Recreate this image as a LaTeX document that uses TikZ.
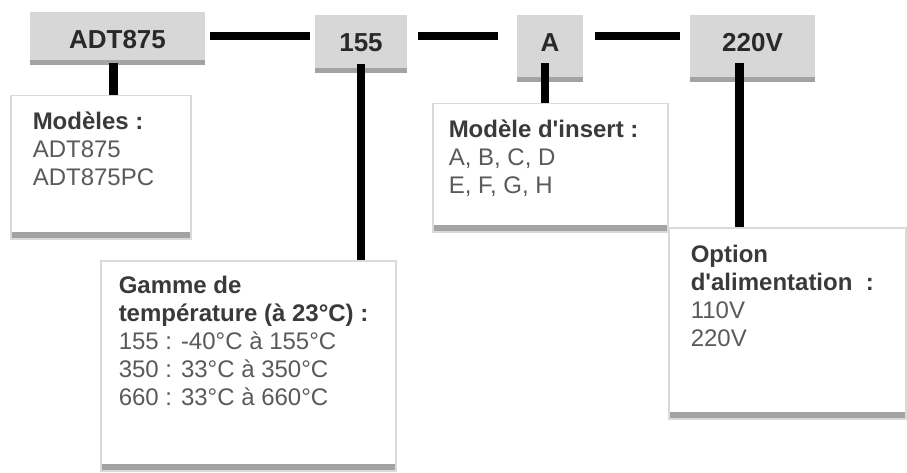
\documentclass[tikz,border=0pt]{standalone}
\usepackage{fontspec}
\setmainfont{Liberation Sans}
\definecolor{grisFond}{HTML}{D7D7D7}
\definecolor{grisBande}{HTML}{A3A3A3}
\definecolor{grisBord}{HTML}{DADADA}
\definecolor{grisTitre}{HTML}{3A3A3A}
\definecolor{grisCorps}{HTML}{5A5A5A}
\def\TitreBoite#1{{\color{grisTitre}\bfseries #1}}
\begin{document}
\begin{tikzpicture}[x=1pt,y=-1pt]
% Styles (MODIFIABLES)
\tikzstyle{etiquette}=[anchor=north,fill=grisFond,inner xsep=0pt,inner ysep=0pt,text height=36pt,
  text=grisTitre!70!black,font=\fontsize{26}{30}\selectfont\bfseries,
  path picture={\fill[grisBande] (path picture bounding box.south west) rectangle ([yshift=5pt]path picture bounding box.south east);}]
\tikzstyle{boite}=[anchor=north west,fill=white,draw=grisBord,line width=1.5pt,inner ysep=16pt,
  text=grisCorps,font=\fontsize{24}{28}\selectfont,
  path picture={\fill[grisBande] (path picture bounding box.south west) rectangle ([yshift=7pt]path picture bounding box.south east);}]
\tikzstyle{liaison}=[line width=8.5pt,black]
% Dimensions (MODIFIABLES)
\def\HautBoiteModele{111pt}
\def\HautBoiteInsert{96pt}
\def\HautBoitePlage{180pt}
\def\HautBoiteTension{157pt}
\useasboundingbox (0,0) rectangle (907,473);
% Etiquettes du haut
\node[etiquette,minimum width=175pt,text depth=17pt] (Modele) at (117.5,12) {ADT875};
\node[etiquette,minimum width=92pt,text depth=22pt] (Plage) at (361,15) {155};
\node[etiquette,minimum width=66pt,text depth=31pt] (Insert) at (550,15) {A};
\node[etiquette,minimum width=125pt,text depth=31pt] (Tension) at (752.5,15) {220V};
% Boites du bas
\node[boite,inner xsep=22pt] (InfoModele) at (10,95)
  {\parbox[t][\HautBoiteModele][t]{136pt}{\TitreBoite{Modèles :}\\ADT875\\ADT875PC}};
\node[boite,inner xsep=16pt] (InfoInsert) at (432,103)
  {\parbox[t][\HautBoiteInsert][t]{203pt}{\TitreBoite{Modèle d\textquotesingle insert :}\\A, B, C, D\\E, F, G, H}};
\node[boite,inner xsep=18pt,inner ysep=15pt] (InfoPlage) at (100,260)
  {\parbox[t][\HautBoitePlage][t]{259pt}{\TitreBoite{Gamme de}\\\TitreBoite{température (à 23°C) :}\\155 : -40°C à 155°C\\350 : 33°C à 350°C\\660 : 33°C à 660°C}};
\node[boite,inner xsep=22pt,inner ysep=17pt] (InfoTension) at (668,227)
  {\parbox[t][\HautBoiteTension][t]{193pt}{\TitreBoite{Option}\\\TitreBoite{d\textquotesingle alimentation~ :}\\110V\\220V}};
% Liaisons (MODIFIABLES : Styles)
\coordinate (Niveau) at (0,36);
\draw[liaison,shorten <=5pt,shorten >=5pt] (Modele.east |- Niveau) -- (Plage.west |- Niveau);
\draw[liaison,shorten <=11pt,shorten >=19pt] (Plage.east |- Niveau) -- (Insert.west |- Niveau);
\draw[liaison,shorten <=12pt,shorten >=10pt] (Insert.east |- Niveau) -- (Tension.west |- Niveau);
\draw[liaison] ([xshift=-4pt,yshift=2pt]Modele.south) -- ([xshift=-4pt]Modele.south |- InfoModele.north);
\draw[liaison] ([yshift=9pt]Plage.south) -- (Plage.south |- InfoPlage.north);
\draw[liaison] ([xshift=-5pt,yshift=19pt]Insert.south) -- ([xshift=-5pt]Insert.south |- InfoInsert.north);
\draw[liaison] ([xshift=-13pt,yshift=19pt]Tension.south) -- ([xshift=-13pt]Tension.south |- InfoTension.north);
\end{tikzpicture}
\end{document}
